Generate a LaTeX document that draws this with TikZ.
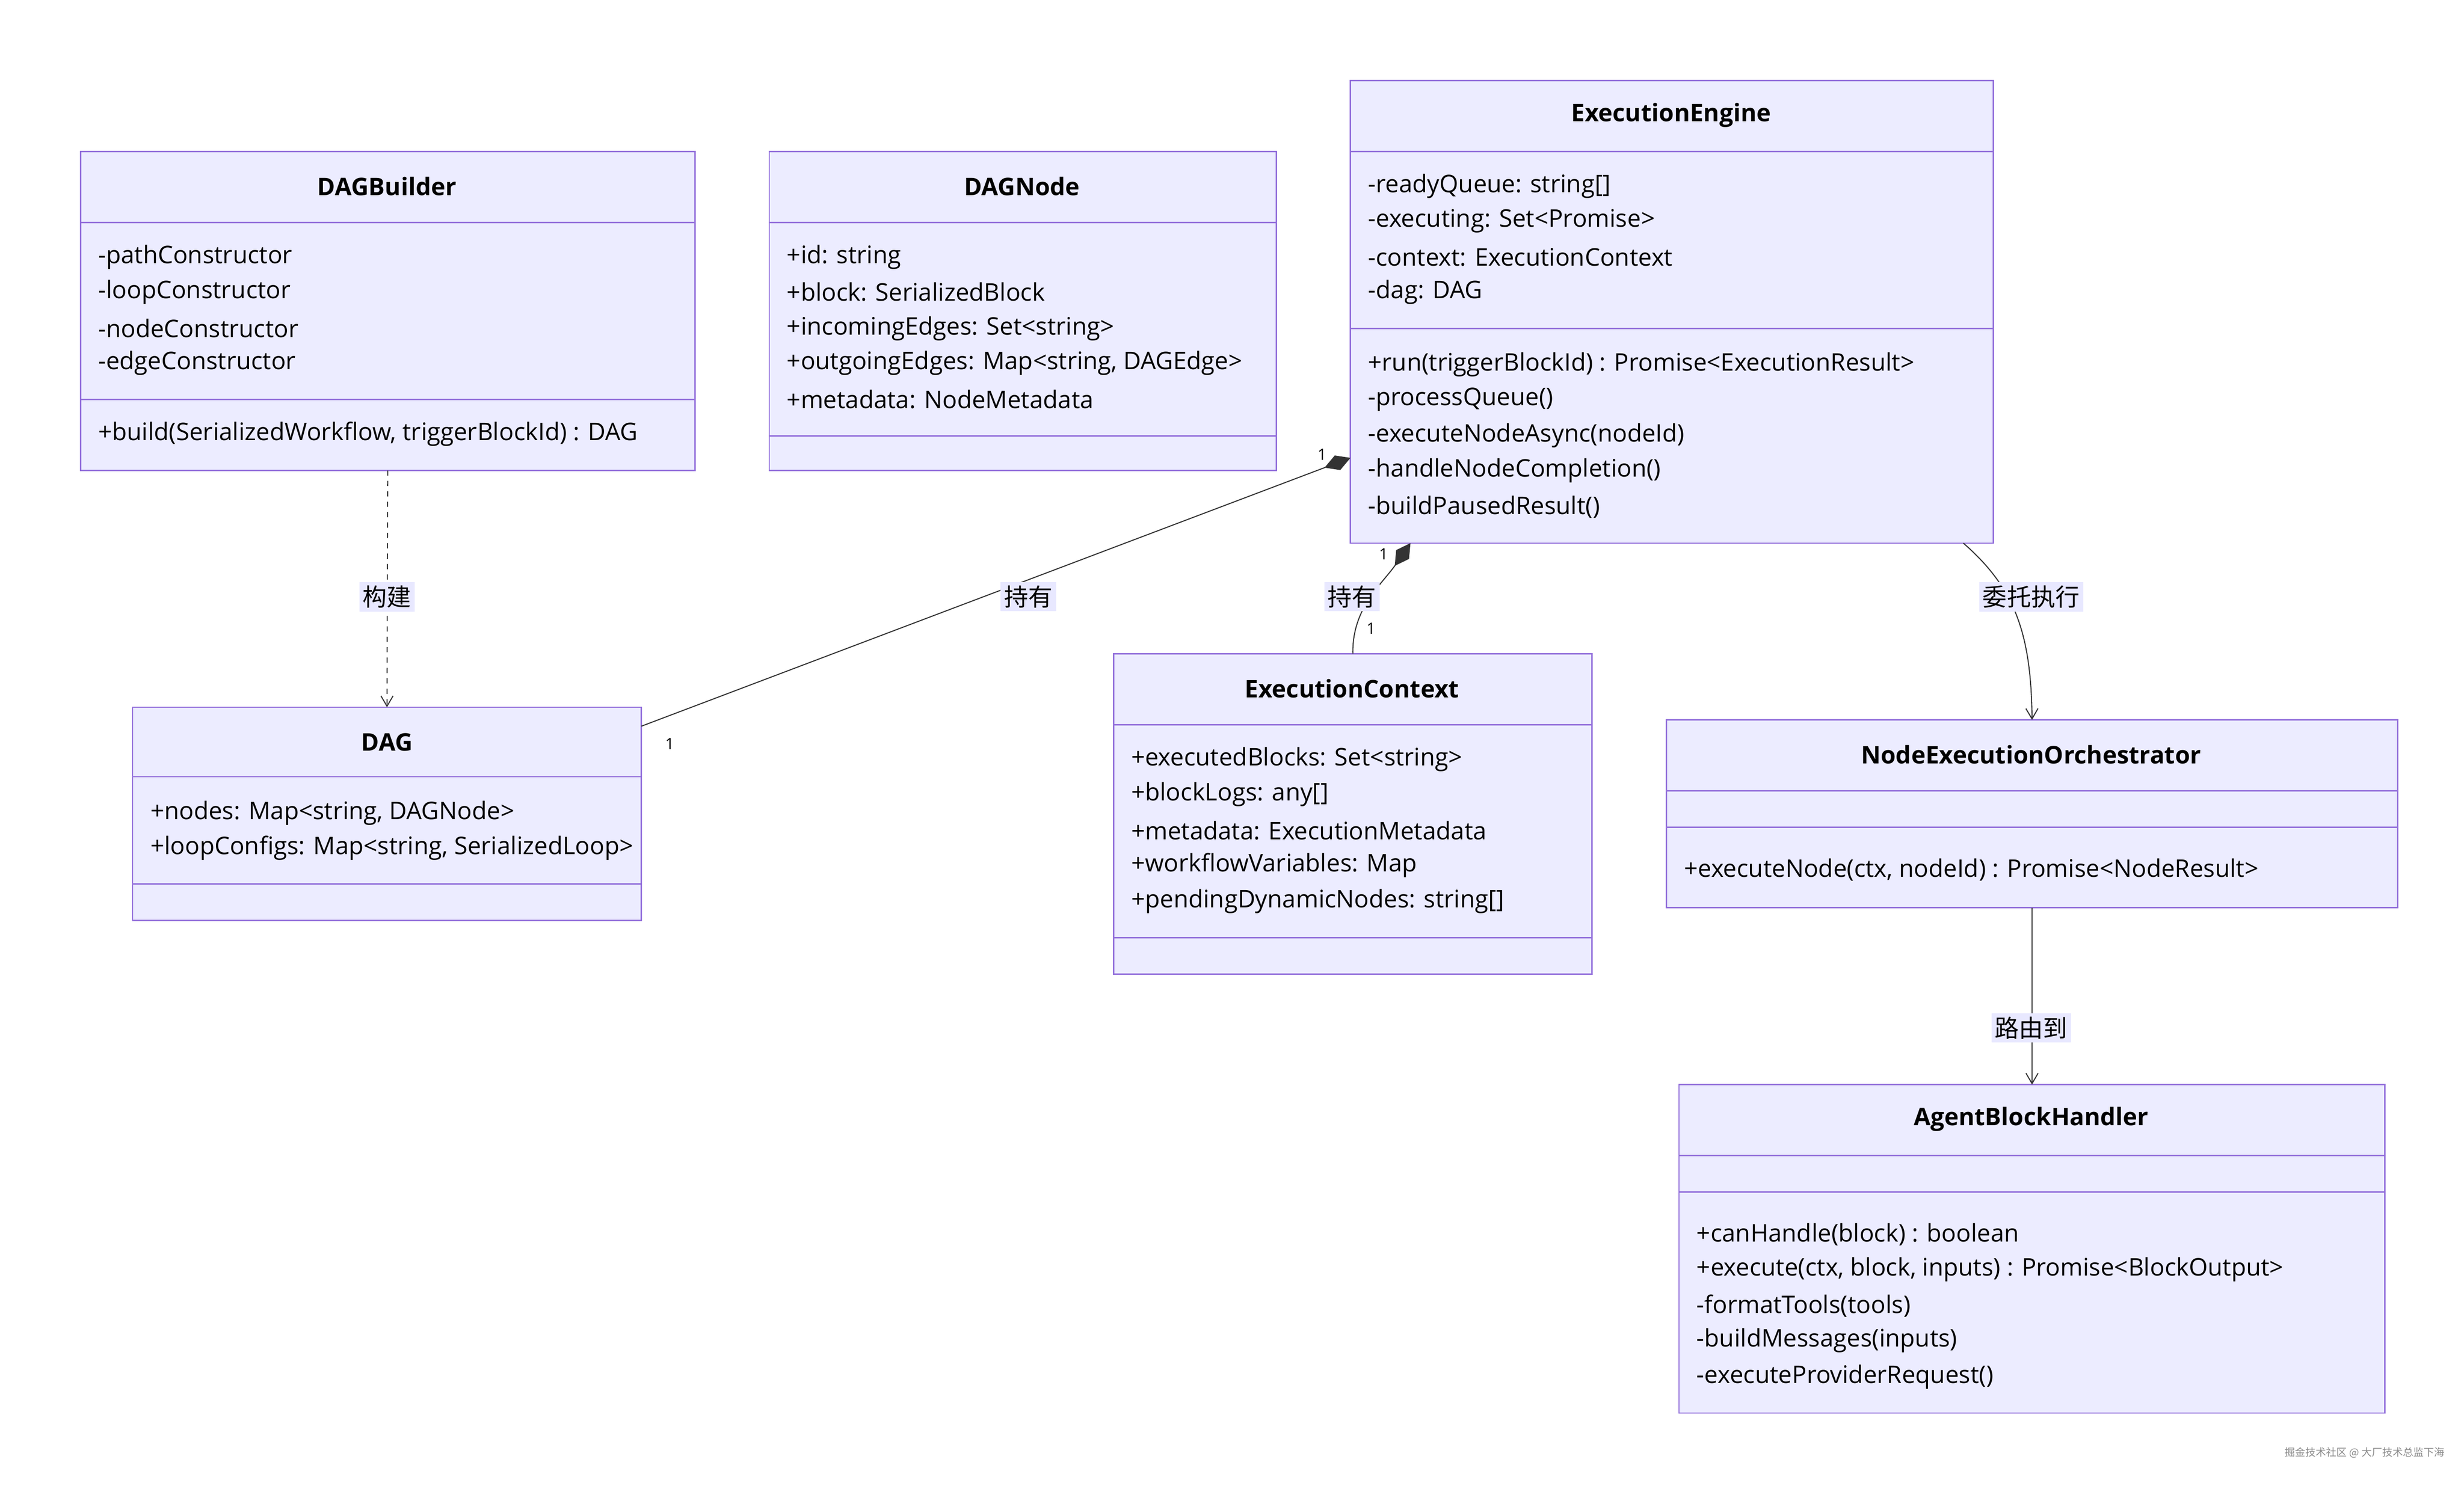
\documentclass[tikz,border=0pt]{standalone}
\usepackage{fontspec}
\setmainfont{Open Sans}
\newfontfamily\cjk{Noto Sans CJK SC}
\usetikzlibrary{arrows.meta,positioning}
\definecolor{clsfill}{HTML}{ECECFF}
\definecolor{clsline}{HTML}{9370DB}
\definecolor{lblfill}{HTML}{E8E8FF}
\tikzset{
  cls/.style={draw=clsline,fill=clsfill,line width=0.8pt},
  sep/.style={draw=clsline,line width=0.8pt},
  title/.style={font=\fontsize{14}{16}\selectfont\bfseries,inner sep=0pt},
  member/.style={anchor=west,font=\fontsize{14}{16}\selectfont,inner sep=0pt},
  rel/.style={draw=black!80,line width=0.6pt},
  lbl/.style={fill=lblfill,font=\cjk\fontsize{14}{16}\selectfont,inner sep=2pt},
  mult/.style={font=\fontsize{9}{10}\selectfont,inner sep=0pt},
  arr/.style={-{Straight Barb[length=6pt,width=7pt]}},
  comp/.style={{Diamond[length=16pt,width=9pt]}-}
}
% box: name, x1, y1, x2, y2, header bottom, attributes bottom
\newcommand{\umlbox}[7]{
  \path[cls] (#2,#3) rectangle (#4,#5);
  \coordinate (#1-n) at ({(#2+#4)/2},#3);
  \coordinate (#1-s) at ({(#2+#4)/2},#5);
  \draw[sep] (#2,#6) -- (#4,#6);
  \draw[sep] (#2,#7) -- (#4,#7);
}
\begin{document}
\begin{tikzpicture}[x=0.03205cm,y=-0.03205cm]
  \useasboundingbox (0,0) rectangle (1560,941);

  % DAGBuilder
  \umlbox{bld}{51}{96}{440}{298}{141}{253}
  \node[title] (bldT) at (245,118) {DAGBuilder};
  \node[member] (bld1) at (62,163) {-pathConstructor};
  \node[member] (bld2) at (62,185) {-loopConstructor};
  \node[member] (bld3) at (62,208) {-nodeConstructor};
  \node[member] (bld4) at (62,230) {-edgeConstructor};
  \node[member] (bld5) at (62,275) {+build(SerializedWorkflow, triggerBlockId) : DAG};

  % DAGNode
  \umlbox{dn}{487}{96}{808}{298}{141}{276}
  \node[title] (dnT) at (647,118) {DAGNode};
  \node[member] (dn1) at (498,163) {+id: string};
  \node[member] (dn2) at (498,185) {+block: SerializedBlock};
  \node[member] (dn3) at (498,208) {+incomingEdges: Set<string>};
  \node[member] (dn4) at (498,230) {+outgoingEdges: Map<string, DAGEdge>};
  \node[member] (dn5) at (498,253) {+metadata: NodeMetadata};

  % ExecutionEngine
  \umlbox{ee}{855}{51}{1262}{344}{96}{208}
  \node[title] (eeT) at (1058,73) {ExecutionEngine};
  \node[member] (ee1) at (866,118) {-readyQueue: string[]};
  \node[member] (ee2) at (866,140) {-executing: Set<Promise>};
  \node[member] (ee3) at (866,163) {-context: ExecutionContext};
  \node[member] (ee4) at (866,185) {-dag: DAG};
  \node[member] (ee5) at (866,231) {+run(triggerBlockId) : Promise<ExecutionResult>};
  \node[member] (ee6) at (866,253) {-processQueue()};
  \node[member] (ee7) at (866,276) {-executeNodeAsync(nodeId)};
  \node[member] (ee8) at (866,298) {-handleNodeCompletion()};
  \node[member] (ee9) at (866,321) {-buildPausedResult()};

  % DAG
  \umlbox{dag}{84}{448}{406}{583}{492}{560}
  \node[title] (dagT) at (245,470) {DAG};
  \node[member] (dag1) at (95,515) {+nodes: Map<string, DAGNode>};
  \node[member] (dag2) at (95,537) {+loopConfigs: Map<string, SerializedLoop>};

  % ExecutionContext
  \umlbox{ctx}{705}{414}{1008}{617}{459}{594}
  \node[title] (ctxT) at (856,436) {ExecutionContext};
  \node[member] (ctx1) at (716,481) {+executedBlocks: Set<string>};
  \node[member] (ctx2) at (716,503) {+blockLogs: any[]};
  \node[member] (ctx3) at (716,526) {+metadata: ExecutionMetadata};
  \node[member] (ctx4) at (716,548) {+workflowVariables: Map};
  \node[member] (ctx5) at (716,571) {+pendingDynamicNodes: string[]};

  % NodeExecutionOrchestrator
  \umlbox{neo}{1055}{456}{1518}{575}{501}{524}
  \node[title] (neoT) at (1286,478) {NodeExecutionOrchestrator};
  \node[member] (neo1) at (1066,551) {+executeNode(ctx, nodeId) : Promise<NodeResult>};

  % AgentBlockHandler
  \umlbox{abh}{1063}{687}{1510}{895}{732}{755}
  \node[title] (abhT) at (1286,709) {AgentBlockHandler};
  \node[member] (abh1) at (1074,782) {+canHandle(block) : boolean};
  \node[member] (abh2) at (1074,804) {+execute(ctx, block, inputs) : Promise<BlockOutput>};
  \node[member] (abh3) at (1074,827) {-formatTools(tools)};
  \node[member] (abh4) at (1074,849) {-buildMessages(inputs)};
  \node[member] (abh5) at (1074,872) {-executeProviderRequest()};

  % relations
  \coordinate (eeL) at (855,290);
  \coordinate (dagR) at (406,460);
  \coordinate (eeB1) at (893,344);
  \coordinate (eeB2) at (1243,344);
  \draw[rel,dashed,arr] (bld-s) -- (dag-n);
  \node[lbl] (l1) at (245,378) {构建};
  \draw[rel,comp] (eeL) -- (dagR);
  \node[lbl] (l2) at (651,378) {持有};
  \draw[rel,comp] (eeB1) .. controls (875,370) and (856,385) .. (ctx-n);
  \node[lbl] (l3) at (856,378) {持有};
  \draw[rel,arr] (eeB2) .. controls (1275,372) and (1286,400) .. (neo-n);
  \node[lbl] (l4) at (1286,378) {委托执行};
  \draw[rel,arr] (neo-s) -- (abh-n);
  \node[lbl] (l5) at (1286,651) {路由到};
  \node[mult] (m1) at (837,288) {1};
  \node[mult] (m2) at (424,471) {1};
  \node[mult] (m3) at (876,351) {1};
  \node[mult] (m4) at (868,398) {1};

  % watermark
  \node[font=\cjk\fontsize{6}{7}\selectfont,text=black!45,anchor=east,inner sep=0pt] (wm) at (1548,920) {掘金技术社区 @ 大厂技术总监下海};
\end{tikzpicture}
\end{document}
